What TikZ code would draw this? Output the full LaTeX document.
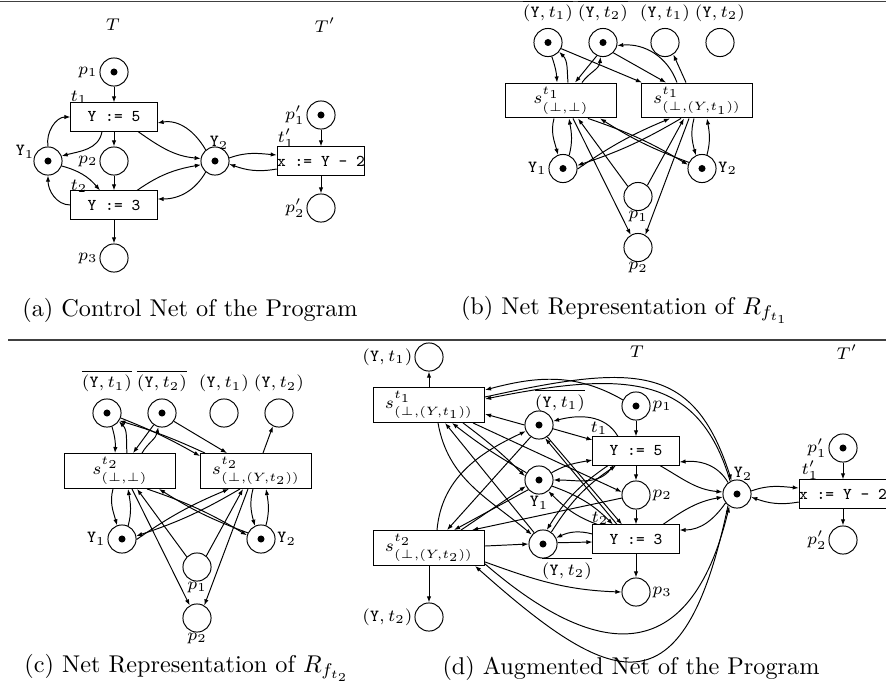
\documentclass[tikz,border=0pt]{standalone}
\usepackage{fontspec}
\usetikzlibrary{arrows.meta,calc}

\tikzset{
  place/.style={circle,draw,line width=0.4pt,minimum size=11.6pt,inner sep=0pt},
  marked/.style={place,path picture={\fill (path picture bounding box.center) circle[radius=1.45pt];}},
  trans/.style={draw,line width=0.4pt,minimum width=35.5pt,minimum height=11.6pt,inner sep=0.4pt,font=\fontsize{6.8}{8}\selectfont\ttfamily},
  sbox/.style={draw,line width=0.4pt,minimum width=45.8pt,minimum height=14.4pt,inner sep=0pt},
  netarc/.style={line width=0.4pt,-{Latex[length=2.5pt,width=1.8pt]}},
  lab/.style={inner sep=0.6pt},
  captext/.style={font=\fontsize{10}{12}\selectfont,inner sep=0pt},
  sepline/.style={line width=0.55pt,black!75},
}

% Net representation of R_f for one transition (#2); #1 = name prefix, (#3,#4) = offset
\newcommand\RNet[4]{%
  \node[marked,label={[lab,label distance=1.8pt]above:$\overline{(\mathtt{Y},t_1)}$}] (#1Yb1) at ({#3+107},{#4-413}) {};
  \node[marked,label={[lab,label distance=1.8pt]above:$\overline{(\mathtt{Y},t_2)}$}] (#1Yb2) at ({#3+162},{#4-413}) {};
  \node[place,label={[lab,label distance=1.8pt]above:$(\mathtt{Y},t_1)$}] (#1Yt1) at ({#3+224},{#4-413}) {};
  \node[place,label={[lab,label distance=1.8pt]above:$(\mathtt{Y},t_2)$}] (#1Yt2) at ({#3+279},{#4-413}) {};
  \node[sbox] (#1sL) at ({#3+120},{#4-471}) {$s^{t_#2}_{(\bot,\bot)}$};
  \node[sbox] (#1sR) at ({#3+256},{#4-471}) {$s^{t_#2}_{(\bot,(Y,t_#2))}$};
  \node[marked,label={[lab]left:\texttt{Y}$_1$}] (#1Y1) at ({#3+122},{#4-539}) {};
  \node[marked,label={[lab]right:\texttt{Y}$_2$}] (#1Y2) at ({#3+261},{#4-539}) {};
  \node[place,label={[lab,inner sep=0pt]below:$p_1$}] (#1p1) at ({#3+197},{#4-567}) {};
  \node[place,label={[lab,inner sep=0pt]below:$p_2$}] (#1p2) at ({#3+197},{#4-618}) {};
  \draw[netarc] ($(#1sL.south)+(-7,0)$) to[out=-105,in=105] (#1Y1.110);
  \draw[netarc] (#1Y1.65) to[out=75,in=-80] ($(#1sL.south)+(8,0)$);
  \draw[netarc] ($(#1sR.south)+(-3,0)$) to[out=-105,in=105] (#1Y2.115);
  \draw[netarc] (#1Y2.70) to[out=75,in=-80] ($(#1sR.south)+(10,0)$);
  \draw[netarc] ($(#1sL.south)+(27,0)$) to[bend left=6] (#1Y2.165);
  \draw[netarc] (#1Y2.155) to[bend left=6] ($(#1sL.south)+(39,0)$);
  \draw[netarc] ($(#1sR.south)+(-16,0)$) to[bend left=6] (#1Y1.12);
  \draw[netarc] (#1Y1.-2) to[bend left=6] ($(#1sR.south)+(-27,0)$);
  \draw[netarc] (#1p1.135) -- ($(#1sL.south)+(17,0)$);
  \draw[netarc] (#1p1.50) -- ($(#1sR.south)+(-13,0)$);
  \draw[netarc] ($(#1sL.south)+(12,0)$) -- (#1p2.120);
  \draw[netarc] ($(#1sR.south)+(-8,0)$) -- (#1p2.60);
}

\begin{document}
\begin{tikzpicture}[x=0.4124pt,y=0.4124pt,font=\fontsize{7}{8.4}\selectfont]
\useasboundingbox (0,0) rectangle (886,-695);

% separating rules
\draw[sepline] (0,-1.5) -- (886,-1.5);
\draw[sepline] (8,-340) -- (886,-340);

% ---------------- (a) control net ----------------
\node[lab] (aT) at (113,-25) {$T$};
\node[lab] (aTp) at (325,-25) {$T'$};
\node[marked,label={[lab]left:$p_1$}] (ap1) at (114,-72) {};
\node[trans] (at1) at (114,-117) {Y := 5};
\node[lab] (at1l) at (79,-97) {$t_1$};
\node[place,label={[lab]left:$p_2$}] (ap2) at (114,-161) {};
\node[trans] (at2) at (114,-205) {Y := 3};
\node[lab] (at2l) at (79,-186) {$t_2$};
\node[place,label={[lab]left:$p_3$}] (ap3) at (114,-258) {};
\node[marked] (aY1) at (48,-161) {};
\node[lab] (aY1l) at (25,-152) {\texttt{Y}$_1$};
\node[marked] (aY2) at (215,-161) {};
\node[lab] (aY2l) at (219,-143) {\texttt{Y}$_2$};
\node[marked,label={[lab]left:$p'_1$}] (app1) at (321,-115) {};
\node[trans,inner xsep=0pt] (atp1) at (321,-161) {x := Y - 2};
\node[lab] (atp1l) at (286,-138) {$t'_1$};
\node[place,label={[lab]left:$p'_2$}] (app2) at (321,-208) {};

\draw[netarc] (ap1) -- (at1);
\draw[netarc] (at1) -- (ap2);
\draw[netarc] (ap2) -- (at2);
\draw[netarc] (at2) -- (ap3);
\draw[netarc] (aY1.north) to[out=100,in=180] (at1.west);
\draw[netarc] ($(at1.south)+(-12,0)$) to[out=-100,in=15] (aY1.20);
\draw[netarc] (aY1.-20) to[out=-15,in=130] ($(at2.north)+(-14,0)$);
\draw[netarc] (at2.west) to[out=180,in=-90] (aY1.south);
\draw[netarc] ($(at1.south)+(24,0)$) to[out=-35,in=175] (aY2.170);
\draw[netarc] (aY2.130) to[out=120,in=10] ($(at1.east)+(0,-6)$);
\draw[netarc] ($(at2.north)+(23,0)$) to[out=35,in=190] (aY2.195);
\draw[netarc] (aY2.230) to[out=-120,in=0] ($(at2.east)+(0,6)$);
\draw[netarc] (aY2.12) to[out=20,in=175] ($(atp1.west)+(0,6)$);
\draw[netarc] ($(atp1.west)+(0,-8)$) to[out=190,in=-20] (aY2.-12);
\draw[netarc] (app1) -- (atp1);
\draw[netarc] (atp1) -- (app2);

\node[captext] (capa) at (190,-310) {(a) Control Net of the Program};

% ---------------- (b) R_{f_{t_1}} ----------------
\RNet{b}{1}{441}{370.5}
\draw[netarc] (bYb1.-75) to[bend left=8] ($(bsL.north)+(-4,0)$);
\draw[netarc] ($(bsL.north)+(7,0)$) to[out=95,in=-45] (bYb1.-40);
\draw[netarc] (bYb2.-115) -- ($(bsL.north)+(14,0)$);
\draw[netarc] ($(bsL.north)+(21,0)$) to[out=55,in=-95] (bYb2.-100);
\draw[netarc] (bYb1.-25) -- ($(bsR.north west)+(1,0)$);
\draw[netarc] (bYb2.-45) -- ($(bsR.north)+(-31,0)$);
\draw[netarc] ($(bsR.north)+(-20,0)$) to[out=110,in=5] (bYb2.-12);
\draw[netarc] ($(bsR.north)+(-11,0)$) -- (bYt1.-55);

\node[captext] (capb) at (625,-310) {(b) Net Representation of $R_{f_{t_1}}$};

% ---------------- (c) R_{f_{t_2}} ----------------
\RNet{c}{2}{0}{0}
\draw[netarc] (cYb1.-70) to[bend left=10] ($(csL.north)+(-5,0)$);
\draw[netarc] ($(csL.north)+(7,0)$) to[out=95,in=-45] (cYb1.-35);
\draw[netarc] (cYb2.-125) -- ($(csL.north)+(13,0)$);
\draw[netarc] ($(csL.north)+(22,0)$) to[out=60,in=-100] (cYb2.-105);
\draw[netarc] (cYb1.-20) to[bend left=4] ($(csR.north west)+(0,-3)$);
\draw[netarc] ($(csR.north west)+(5,0)$) to[bend right=4] (cYb1.-32);
\draw[netarc] (cYb2.-35) -- ($(csR.north)+(-29,0)$);
\draw[netarc] ($(csR.north)+(7,0)$) -- (cYt2.-115);

\node[captext] (capc) at (187,-668) {(c) Net Representation of $R_{f_{t_2}}$};

% ---------------- (d) augmented net ----------------
\node[lab] (dT) at (637,-352) {$T$};
\node[lab] (dTp) at (847,-352) {$T'$};
\node[place,label={[lab]left:$(\mathtt{Y},t_1)$}] (dYt1) at (429,-357) {};
\node[sbox] (dsA) at (429,-405) {$s^{t_1}_{(\bot,(Y,t_1))}$};
\node[marked] (dYb1) at (539,-425) {};
\node[lab,anchor=base] (dYb1l) at (560,-407) {$\overline{(\mathtt{Y},t_1)}$};
\node[marked,label={[lab]below:\texttt{Y}$_1$}] (dY1) at (539,-480) {};
\node[marked] (dYb2) at (543,-544) {};
\node[lab,anchor=base] (dYb2l) at (567,-575) {$\overline{(\mathtt{Y},t_2)}$};
\node[sbox] (dsB) at (429,-548) {$s^{t_2}_{(\bot,(Y,t_2))}$};
\node[place,label={[lab]left:$(\mathtt{Y},t_2)$}] (dYt2) at (429,-617) {};
\node[marked,label={[lab]right:$p_1$}] (dp1) at (636,-406) {};
\node[trans] (dt1) at (636,-451) {Y := 5};
\node[lab] (dt1l) at (599,-428) {$t_1$};
\node[place,label={[lab]right:$p_2$}] (dp2) at (636,-495) {};
\node[trans] (dt2) at (636,-539) {Y := 3};
\node[lab] (dt2l) at (600,-518) {$t_2$};
\node[place,label={[lab]right:$p_3$}] (dp3) at (636,-592) {};
\node[marked] (dY2) at (737,-494) {};
\node[lab] (dY2l) at (743,-474) {\texttt{Y}$_2$};
\node[marked,label={[lab]left:$p'_1$}] (dpp1) at (843,-448) {};
\node[trans,inner xsep=0pt] (dtp1) at (843,-494) {x := Y - 2};
\node[lab] (dtp1l) at (810,-470) {$t'_1$};
\node[place,label={[lab]left:$p'_2$}] (dpp2) at (843,-540) {};

% control flow and Y arcs of the program
\draw[netarc] (dp1) -- (dt1);
\draw[netarc] (dt1) -- (dp2);
\draw[netarc] (dp2) -- (dt2);
\draw[netarc] (dt2) -- (dp3);
\draw[netarc] (dpp1) -- (dtp1);
\draw[netarc] (dtp1) -- (dpp2);
\draw[netarc] (dY1.30) to[out=30,in=190] ($(dt1.west)+(0,-9)$);
\draw[netarc] ($(dt1.south)+(-23,0)$) to[out=-120,in=0] (dY1.0);
\draw[netarc] (dY1.-25) to[out=-20,in=135] ($(dt2.north)+(-23,0)$);
\draw[netarc] ($(dt2.north west)+(5,0)$) to[out=160,in=-45] (dY1.-50);
\draw[netarc] ($(dt1.south)+(24,0)$) to[out=-30,in=175] (dY2.172);
\draw[netarc] (dY2.128) to[out=120,in=5] ($(dt1.east)+(0,-11)$);
\draw[netarc] ($(dt2.north)+(27,0)$) to[out=35,in=190] (dY2.192);
\draw[netarc] (dY2.218) to[out=-125,in=0] ($(dt2.east)+(0,9)$);
\draw[netarc] (dY2.12) to[out=20,in=175] ($(dtp1.west)+(0,6)$);
\draw[netarc] ($(dtp1.west)+(0,-8)$) to[out=190,in=-20] (dY2.-12);

% complement places and the program transitions
\draw[netarc] (dYb1.-15) -- ($(dt1.west)+(0,11)$);
\draw[netarc] ($(dt1.north)+(-18,0)$) to[out=120,in=15] (dYb1.15);
\draw[netarc] (dYb1.-55) -- ($(dt2.north)+(-14,0)$);
\draw[netarc] ($(dt2.north)+(-19,0)$) -- (dYb1.-65);
\draw[netarc] (dYb2.5) -- ($(dt2.west)+(0,-3)$);
\draw[netarc] ($(dt2.west)+(0,5)$) to[out=165,in=25] (dYb2.25);
\draw[netarc] (dYb2.55) to[bend left=12] ($(dt1.south)+(-20,0)$);
\draw[netarc] ($(dt1.south)+(-28,0)$) to[bend right=12] (dYb2.75);

% arcs of s^{t_1}
\draw[netarc] (dsA) -- (dYt1);
\draw[netarc] (dp1.155) to[out=150,in=15] ($(dsA.east)+(0,15)$);
\draw[netarc] ($(dsA.east)+(0,8)$) .. controls +(150,33) and +(-38,118) .. (dY2.112);
\draw[netarc] (dY2.118) .. controls +(-32,108) and +(140,28) .. ($(dsA.east)+(0,6)$);
\draw[netarc] ($(dsA.south)+(9,0)$) to[out=-80,in=140] (dYb2.140);
\draw[netarc] (dYb2.128) -- ($(dsA.south)+(16,0)$);
\draw[netarc] (dY1.150) to[bend left=4] ($(dsA.south)+(23,0)$);
\draw[netarc] ($(dsA.south)+(34,0)$) to[bend left=4] (dY1.165);
\draw[netarc] ($(dsA.south)+(44,0)$) -- (dp2.168);
\draw[netarc] (dYb1.180) -- ($(dsA.east)+(0,-9)$);

% arcs of s^{t_2}
\draw[netarc] (dsB) -- (dYt2);
\draw[netarc] ($(dsB.north)+(8,0)$) to[out=85,in=205] (dYb1.205);
\draw[netarc] (dYb1.235) -- ($(dsB.north)+(18,0)$);
\draw[netarc] (dY1.222) -- ($(dsB.north)+(25,0)$);
\draw[netarc] ($(dsB.north)+(32,0)$) -- (dY1.205);
\draw[netarc] (dp2.192) -- ($(dsB.north)+(43,0)$);
\draw[netarc] ($(dsB.east)+(0,2)$) -- (dYb2.180);
\draw[netarc] ($(dsB.south east)+(0,4)$) to[out=-20,in=178] (dp3.west);
\draw[netarc] ($(dsB.south east)+(0,2)$) .. controls +(110,-95) and +(-40,-165) .. (dY2.238);
\draw[netarc] (dY2.232) .. controls +(-45,-215) and +(135,-120) .. ($(dsB.south east)+(-10,0)$);

\node[captext] (capd) at (631,-668) {(d) Augmented Net of the Program};
\end{tikzpicture}
\end{document}
